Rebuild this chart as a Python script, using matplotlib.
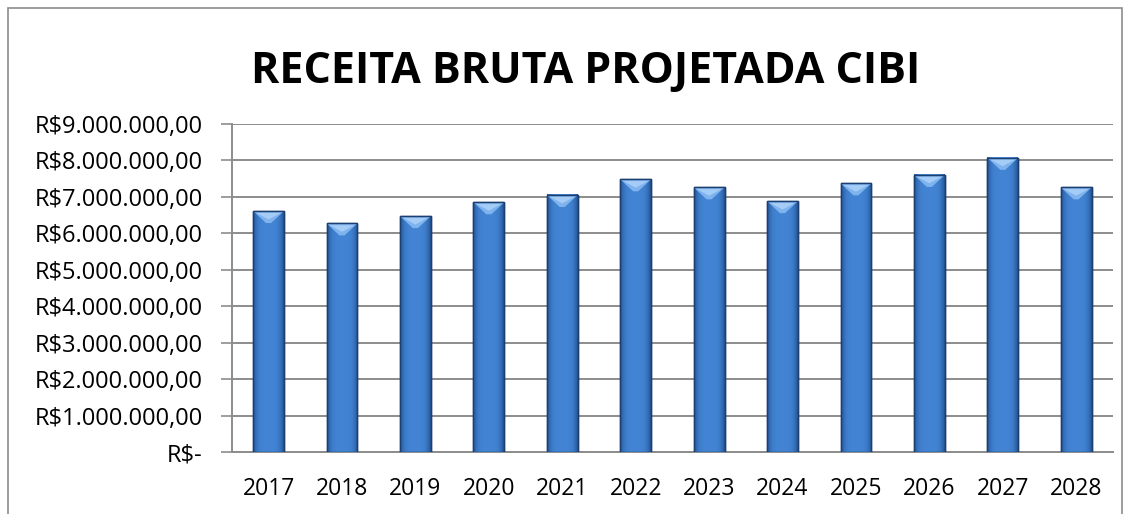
import numpy as np
import matplotlib
matplotlib.use("Agg")
from matplotlib import pyplot as plt
from matplotlib.patches import Rectangle, Polygon
from matplotlib.ticker import FuncFormatter

years = ['2017', '2018', '2019', '2020', '2021', '2022',
         '2023', '2024', '2025', '2026', '2027', '2028']
receita = [6610000, 6270000, 6470000, 6850000, 7050000, 7480000,
           7260000, 6880000, 7370000, 7600000, 8070000, 7260000]
y_ticks = [0, 1e6, 2e6, 3e6, 4e6, 5e6, 6e6, 7e6, 8e6, 9e6]

plt.rcParams['font.family'] = ['Open Sans', 'DejaVu Sans']


def brl(v, pos=None):
    if v == 0:
        return 'R$-'
    s = '{:,.2f}'.format(v).replace(',', 'X').replace('.', ',').replace('X', '.')
    return 'R$' + s


fig = plt.figure(figsize=(11.31, 5.14), dpi=100)
ax = fig.add_axes([0.205, 0.1206, 0.779, 0.6384])

# chart border
fig.patches.append(Rectangle((0.007, -0.05), 0.985, 1.035, transform=fig.transFigure,
                             fill=False, edgecolor='#8c8c8c', linewidth=1.2))

x = np.arange(len(years))
width = 0.42
bars = ax.bar(x, receita, width, color='#3d7bc8', edgecolor='#1b3f6e',
              linewidth=1.0, zorder=3)

# horizontal shading to mimic the bevelled bars
grad = np.linspace(0, 1, 64)
shade = 1 - 0.95 * (2 * grad - 1) ** 4
cmap_img = np.zeros((1, 64, 3))
dark = np.array([0.13, 0.31, 0.56])
light = np.array([0.26, 0.52, 0.83])
for i in range(64):
    cmap_img[0, i] = dark + (light - dark) * shade[i]
bev = 330000
for xi, val in zip(x, receita):
    x0, x1 = xi - width / 2, xi + width / 2
    ax.imshow(cmap_img, extent=(x0, x1, 0, val), aspect='auto', zorder=3.5,
              interpolation='bilinear')
    ax.add_patch(Polygon([(x0, val), (x1, val), (xi + width * 0.08, val - bev),
                          (xi - width * 0.08, val - bev)],
                         closed=True, facecolor='#7fb3ee', edgecolor='none', zorder=3.7))
    ax.add_patch(Polygon([(x0 + width * 0.1, val - bev * 0.15), (x1 - width * 0.1, val - bev * 0.15),
                          (xi, val - bev * 0.7)],
                         closed=True, facecolor='#a4ccf7', edgecolor='none', zorder=3.75))
    ax.add_patch(Rectangle((x0, 0), width, val, fill=False, edgecolor='#1b3f6e',
                           linewidth=1.0, zorder=3.9))

ax.set_xlim(-0.5, len(years) - 0.5)
ax.set_ylim(0, 9e6)
ax.set_yticks(y_ticks)
ax.yaxis.set_major_formatter(FuncFormatter(brl))
ax.set_xticks(x)
ax.set_xticklabels(years)
ax.tick_params(axis='y', length=8, width=1.2, color='#8c8c8c', labelsize=17, pad=13)
ax.tick_params(axis='x', length=0, labelsize=16.5, pad=18)
ax.grid(axis='y', color='#8c8c8c', linewidth=1.4, zorder=0)
ax.set_axisbelow(True)
for side in ['top', 'right']:
    ax.spines[side].set_visible(False)
for side in ['left', 'bottom']:
    ax.spines[side].set_color('#8c8c8c')
    ax.spines[side].set_linewidth(1.4)

fig.text(0.518, 0.86, 'RECEITA BRUTA PROJETADA CIBI', ha='center', va='center',
         fontsize=31, fontweight='bold')

fig.savefig('out.png', dpi=100)
